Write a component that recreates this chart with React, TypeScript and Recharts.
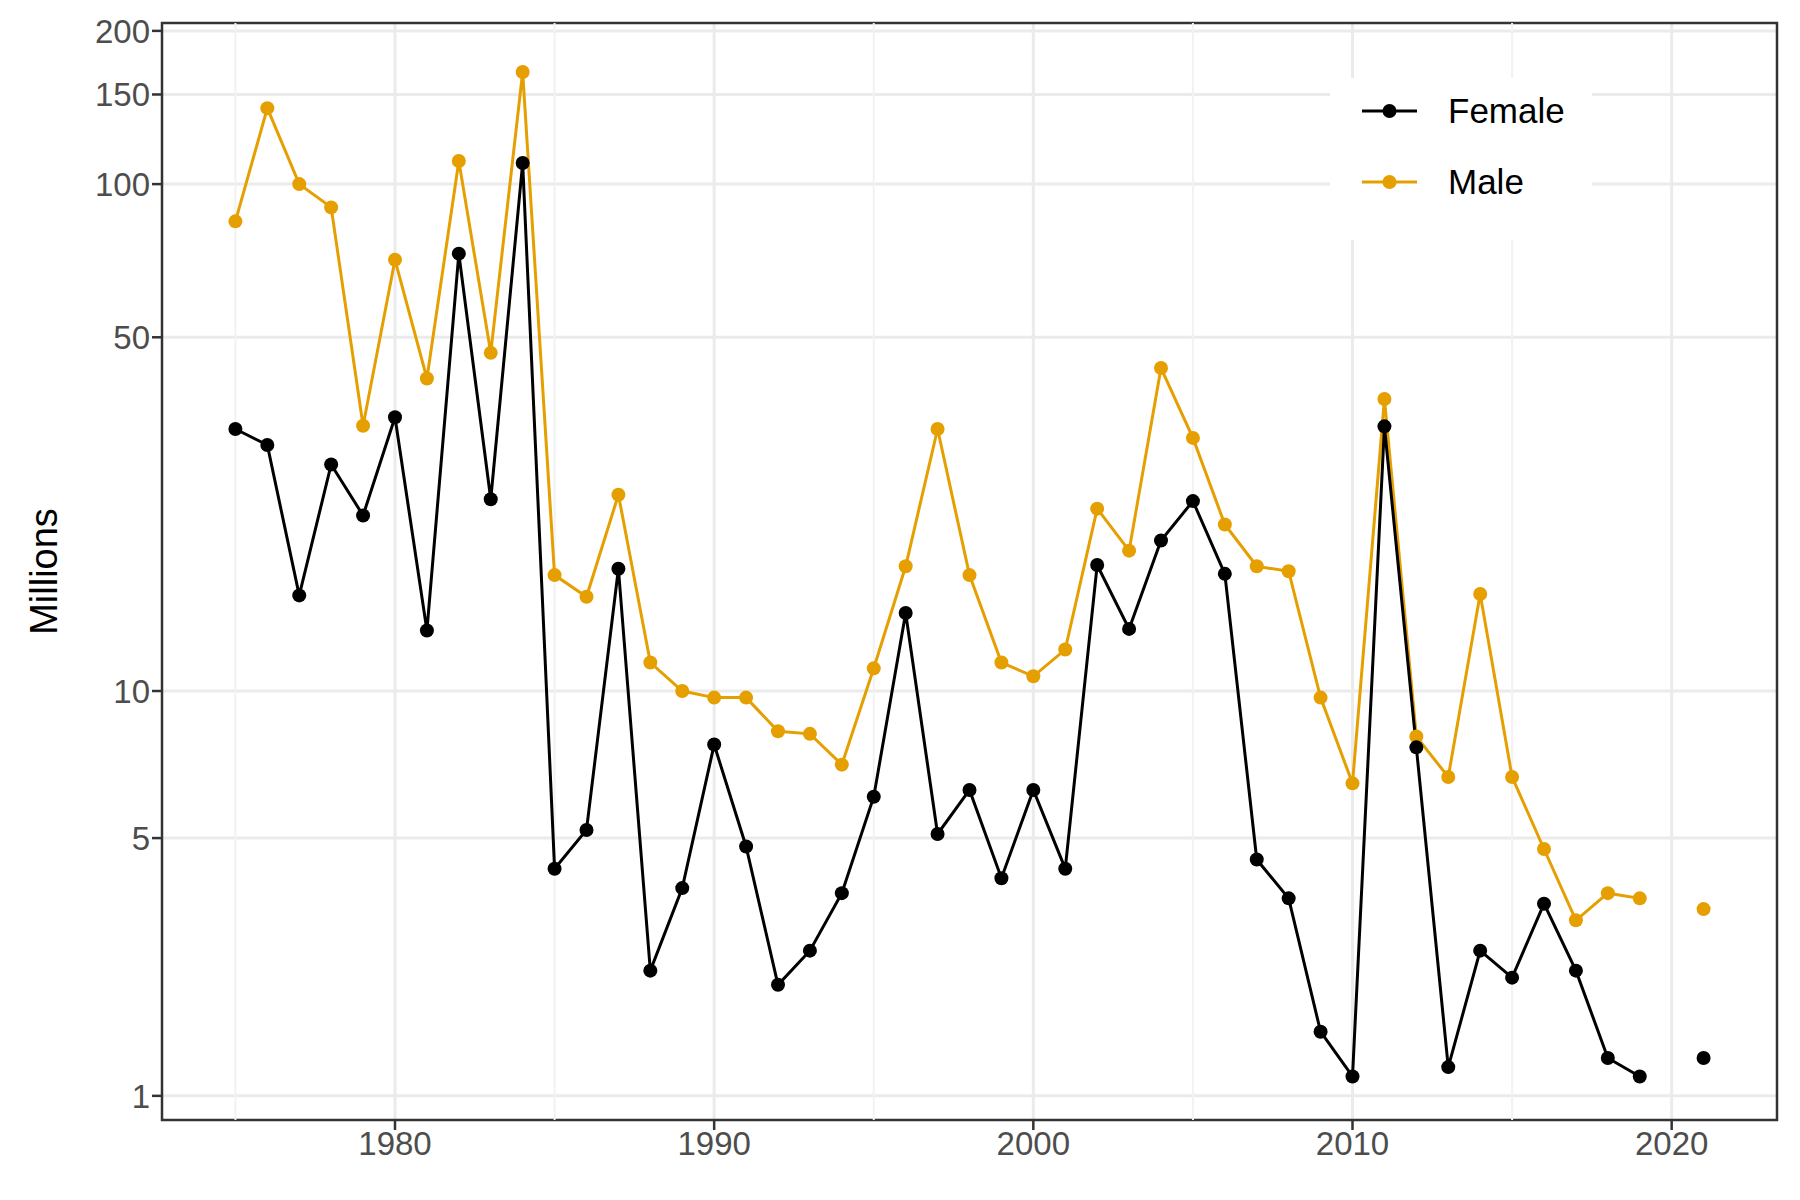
import { LineChart, Line, XAxis, YAxis, CartesianGrid, ReferenceLine, ReferenceArea, Label } from "recharts"

const years = [1975, 1976, 1977, 1978, 1979, 1980, 1981, 1982, 1983, 1984, 1985, 1986, 1987, 1988, 1989, 1990, 1991, 1992, 1993, 1994, 1995, 1996, 1997, 1998, 1999, 2000, 2001, 2002, 2003, 2004, 2005, 2006, 2007, 2008, 2009, 2010, 2011, 2012, 2013, 2014, 2015, 2016, 2017, 2018, 2019, 2020, 2021]

const female = [33, 30.7, 15.5, 28.1, 22.3, 34.8, 13.2, 73, 24, 110, 4.3, 5.2, 17.5, 2.5, 3.9, 7.8, 4.8, 2.3, 2.8, 3.8, 6.1, 14.3, 5.1, 6.3, 4.1, 6.3, 4.3, 17.8, 13.3, 19.9, 23.8, 17.1, 4.5, 3.7, 1.7, 1.2, 33.4, 7.7, 1.3, 2.8, 2.4, 3.6, 2.5, 1.4, 1.2, null, 1.4]

const male = [84.5, 141, 100, 90, 33.5, 71, 41.5, 111, 46.6, 166, 17, 15.4, 24.5, 11.4, 10, 9.7, 9.7, 8.3, 8.2, 7.1, 11.1, 17.7, 33, 17, 11.4, 10.7, 12.1, 23, 19, 43.5, 31.7, 21.4, 17.7, 17.3, 9.7, 6.5, 37.8, 8.1, 6.7, 15.6, 6.7, 4.74, 3.3, 3.8, 3.7, null, 3.5]

const yTickLabels = [1, 5, 10, 50, 100, 150, 200]
const xMajor = [1980, 1990, 2000, 2010, 2020]
const xMinor = [1975, 1985, 1995, 2005, 2015]

// ggplot pseudo_log transform: asinh(x / 2)
const tf = (v: number | null) => (v == null ? null : Math.asinh(v / 2))
const inv = (t: number) => 2 * Math.sinh(t)

const data = years.map((year, i) => ({ year, female: tf(female[i]), male: tf(male[i]) }))
const yTicks = yTickLabels.map((v) => Math.asinh(v / 2))

const X_DOMAIN: [number, number] = [1972.7, 2023.3]
const Y_DOMAIN: [number, number] = [0.372, 5.334]

const FONT = "'Liberation Sans', Arial, sans-serif"

function LegendBox() {
  const items = [
    { name: "Female", color: "#000000" },
    { name: "Male", color: "#E69F00" },
  ]
  return (
    <svg width={262} height={162} style={{ position: "absolute", left: 1330, top: 78 }}>
      <rect x={0} y={0} width={262} height={162} fill="#ffffff" />
      {items.map((it, i) => {
        const cy = 33 + i * 71
        return (
          <g key={it.name}>
            <line x1={32} x2={87} y1={cy} y2={cy} stroke={it.color} strokeWidth={3} />
            <circle cx={59.5} cy={cy} r={7} fill={it.color} />
            <text x={118} y={cy + 12} fontSize={35} fontFamily={FONT} fill="#000">
              {it.name}
            </text>
          </g>
        )
      })}
    </svg>
  )
}

export default function App() {
  return (
    <div style={{ position: "absolute", left: 0, top: 0, width: 1800, height: 1200, background: "#fff" }}>
      <LineChart width={1800} height={1200} data={data} margin={{ top: 23, right: 23, bottom: 0, left: 0 }}>
        <CartesianGrid
          stroke="#ebebeb"
          strokeWidth={3}
          horizontalValues={yTicks}
          verticalValues={xMajor}
        />
        {xMinor.map((x) => (
          <ReferenceLine key={x} x={x} stroke="#f2f2f2" strokeWidth={2} />
        ))}
        <XAxis
          dataKey="year"
          type="number"
          domain={X_DOMAIN}
          ticks={xMajor}
          allowDataOverflow
          height={80}
          axisLine={false}
          tickLine={{ stroke: "#333", strokeWidth: 2.5 }}
          tickSize={10}
          tick={{ fontSize: 33, fill: "#4d4d4d", fontFamily: FONT }}
        />
        <YAxis
          type="number"
          domain={Y_DOMAIN}
          ticks={yTicks}
          allowDataOverflow
          width={162}
          axisLine={false}
          tickLine={{ stroke: "#333", strokeWidth: 2.5 }}
          tickSize={10}
          tickFormatter={(t: number) => String(Math.round(inv(t)))}
          tick={{ fontSize: 33, fill: "#4d4d4d", fontFamily: FONT }}
        >
          <Label
            value="Millions"
            angle={-90}
            position="insideLeft"
            offset={44}
            style={{ fontSize: 38, fill: "#000", fontFamily: FONT, textAnchor: "middle" }}
          />
        </YAxis>
        <Line
          dataKey="male"
          stroke="#E69F00"
          strokeWidth={3}
          dot={{ r: 7, fill: "#E69F00", stroke: "none" }}
          connectNulls={false}
          isAnimationActive={false}
          type="linear"
        />
        <Line
          dataKey="female"
          stroke="#000000"
          strokeWidth={3}
          dot={{ r: 7, fill: "#000000", stroke: "none" }}
          connectNulls={false}
          isAnimationActive={false}
          type="linear"
        />
        <ReferenceArea
          x1={X_DOMAIN[0]}
          x2={X_DOMAIN[1]}
          y1={Y_DOMAIN[0]}
          y2={Y_DOMAIN[1]}
          fill="none"
          stroke="#333"
          strokeWidth={2.5}
        />
      </LineChart>
      <LegendBox />
    </div>
  )
}
